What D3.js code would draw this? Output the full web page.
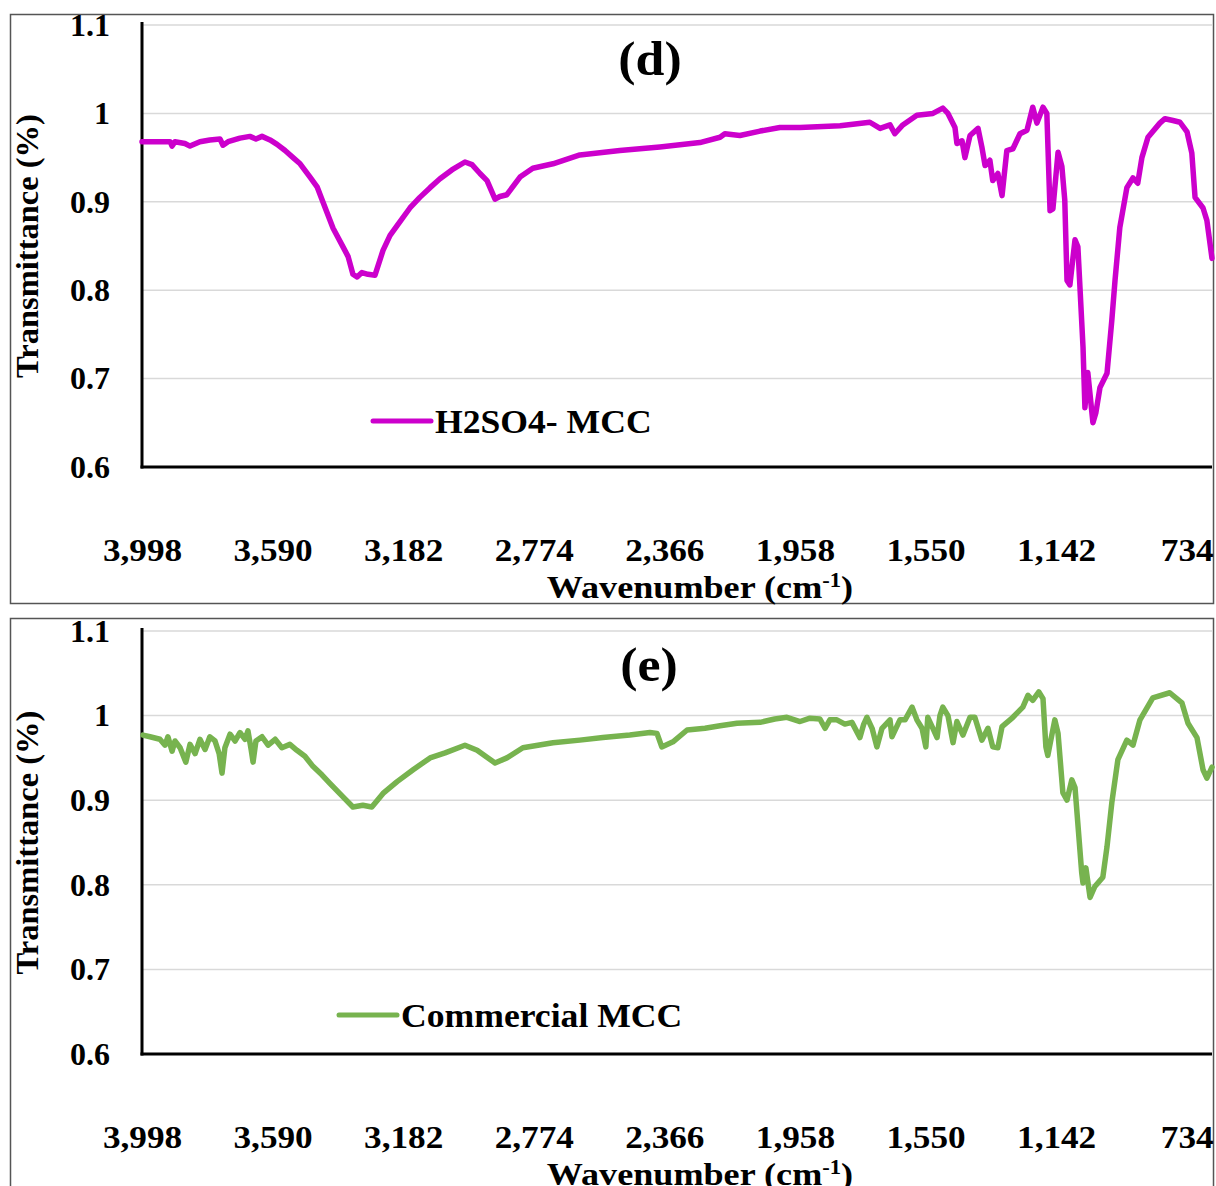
<!DOCTYPE html>
<html>
<head>
<meta charset="utf-8">
<script src="https://cdn.jsdelivr.net/npm/d3@7"></script>
<style>
  body { margin: 0; background: #fff; }
  text { font-family: "Liberation Serif", "Times New Roman", serif; font-weight: bold; fill: #000; }
</style>
</head>
<body>
<script>
// tick labels
var xTicks = [3998, 3590, 3182, 2774, 2366, 1958, 1550, 1142, 734];
var yTicks = [0.6, 0.7, 0.8, 0.9, 1.0, 1.1];

// (d) H2SO4- MCC : wavenumber (cm-1) and transmittance
var waveH2SO4 = [3998, 3957, 3910, 3904, 3895, 3864, 3848, 3817, 3786, 3754, 3745, 3729, 3692, 3661, 3642, 3623,
  3598, 3576, 3551, 3526, 3504, 3473, 3451, 3433, 3401, 3370, 3354, 3339, 3326, 3311, 3292, 3270, 3245, 3223,
  3201, 3161, 3130, 3098, 3067, 3030, 2989, 2967, 2942, 2920, 2895, 2880, 2858, 2817, 2777, 2714, 2630, 2505,
  2380, 2255, 2192, 2177, 2130, 2067, 2005, 1942, 1817, 1724, 1692, 1661, 1646, 1621, 1577, 1527, 1496, 1480,
  1458, 1452, 1436, 1427, 1411, 1386, 1374, 1364, 1349, 1340, 1324, 1311, 1296, 1277, 1255, 1233, 1215, 1202,
  1183, 1171, 1161, 1152, 1136, 1124, 1115, 1108, 1099, 1083, 1074, 1058, 1052, 1043, 1027, 1018, 1005, 983,
  968, 958, 943, 921, 902, 887, 874, 855, 818, 802, 777, 755, 733, 718, 708, 683, 671, 655];
var transH2SO4 = [0.968, 0.968, 0.968, 0.963, 0.968, 0.966, 0.963, 0.968, 0.970, 0.971, 0.964, 0.968, 0.972, 0.974, 0.971, 0.974,
  0.970, 0.965, 0.958, 0.950, 0.943, 0.928, 0.917, 0.900, 0.870, 0.849, 0.838, 0.818, 0.815, 0.820, 0.818, 0.817, 0.845, 0.862,
  0.873, 0.893, 0.905, 0.916, 0.926, 0.936, 0.945, 0.942, 0.932, 0.924, 0.903, 0.906, 0.908, 0.928, 0.938, 0.943, 0.953, 0.958,
  0.962, 0.967, 0.973, 0.977, 0.975, 0.980, 0.984, 0.984, 0.986, 0.990, 0.983, 0.987, 0.977, 0.987, 0.998, 1.000, 1.006, 1.000,
  0.984, 0.966, 0.969, 0.950, 0.975, 0.983, 0.962, 0.941, 0.947, 0.924, 0.932, 0.907, 0.958, 0.960, 0.977, 0.981, 1.007, 0.989,
  1.007, 1.000, 0.890, 0.892, 0.956, 0.940, 0.902, 0.811, 0.806, 0.857, 0.849, 0.736, 0.667, 0.707, 0.650, 0.661, 0.690, 0.706,
  0.766, 0.811, 0.871, 0.916, 0.927, 0.921, 0.950, 0.973, 0.989, 0.994, 0.992, 0.990, 0.979, 0.955, 0.905, 0.893, 0.879, 0.836];

// (e) Commercial MCC
var waveCommercial = [3995, 3973, 3942, 3926, 3917, 3904, 3895, 3879, 3861, 3848, 3832, 3817, 3801, 3786, 3770, 3757,
  3748, 3739, 3723, 3707, 3692, 3676, 3667, 3657, 3651, 3642, 3623, 3604, 3582, 3561, 3536, 3514, 3489, 3464,
  3436, 3411, 3370, 3339, 3308, 3280, 3245, 3201, 3151, 3098, 3051, 2989, 2951, 2917, 2895, 2858, 2808, 2714,
  2630, 2558, 2474, 2411, 2389, 2374, 2339, 2295, 2239, 2192, 2139, 2067, 2021, 1983, 1942, 1911, 1880, 1864,
  1849, 1827, 1802, 1780, 1755, 1743, 1733, 1717, 1702, 1686, 1661, 1655, 1630, 1614, 1592, 1577, 1561, 1549,
  1543, 1527, 1514, 1505, 1496, 1480, 1464, 1452, 1433, 1411, 1396, 1374, 1355, 1340, 1324, 1311, 1277, 1246,
  1230, 1215, 1196, 1183, 1174, 1168, 1146, 1136, 1121, 1108, 1093, 1083, 1062, 1058, 1049, 1036, 1021, 996,
  983, 968, 949, 921, 902, 880, 840, 787, 749, 730, 702, 683, 671, 655];
var transCommercial = [0.977, 0.975, 0.972, 0.965, 0.975, 0.958, 0.970, 0.962, 0.945, 0.966, 0.955, 0.972, 0.960, 0.975, 0.970, 0.955,
  0.932, 0.962, 0.978, 0.970, 0.980, 0.972, 0.982, 0.960, 0.945, 0.970, 0.975, 0.965, 0.972, 0.962, 0.966, 0.959, 0.952, 0.940,
  0.930, 0.920, 0.904, 0.892, 0.894, 0.892, 0.908, 0.922, 0.936, 0.950, 0.956, 0.965, 0.959, 0.950, 0.944, 0.950, 0.962, 0.968,
  0.971, 0.974, 0.977, 0.980, 0.979, 0.963, 0.969, 0.983, 0.985, 0.988, 0.991, 0.992, 0.996, 0.998, 0.993, 0.997, 0.996, 0.985,
  0.995, 0.995, 0.990, 0.992, 0.974, 0.990, 0.998, 0.985, 0.963, 0.985, 0.995, 0.975, 0.995, 0.995, 1.010, 0.995, 0.985, 0.963,
  0.998, 0.985, 0.974, 1.000, 1.010, 1.000, 0.968, 0.993, 0.977, 0.998, 0.998, 0.971, 0.985, 0.963, 0.962, 0.987, 0.998, 1.010,
  1.024, 1.018, 1.028, 1.020, 0.963, 0.953, 0.995, 0.979, 0.909, 0.900, 0.924, 0.915, 0.814, 0.802, 0.820, 0.785, 0.798, 0.809,
  0.845, 0.897, 0.948, 0.971, 0.965, 0.995, 1.021, 1.027, 1.015, 0.991, 0.974, 0.936, 0.926, 0.939];

var width = 1216, height = 1186;

var svg = d3.select("body").append("svg")
    .attr("width", width)
    .attr("height", height);

// same wavenumber scale for both panels
var x = d3.scaleLinear().domain([3998, 655]).range([142, 1212]);

function drawPanel(p) {
  var g = svg.append("g");

  // panel frame
  g.append("rect")
      .attr("x", 10.5).attr("y", p.top + 0.5)
      .attr("width", 1203).attr("height", p.bottom - p.top)
      .style("fill", "none").style("stroke", "#555").style("stroke-width", "1.5");

  var y = d3.scaleLinear().domain([0.6, 1.1]).range([p.y0, p.y1]);

  // gridlines
  g.selectAll(".grid")
      .data(yTicks.slice(1))
    .enter().append("line")
      .attr("x1", x.range()[0]).attr("x2", x.range()[1])
      .attr("y1", function(d) { return y(d); })
      .attr("y2", function(d) { return y(d); })
      .style("stroke", "#d9d9d9").style("stroke-width", "1.5");

  // y axis labels
  var yAxis = g.append("g")
      .attr("transform", "translate(142,0)")
      .call(d3.axisLeft(y).tickValues(yTicks).tickSize(0).tickPadding(32)
        .tickFormat(function(d) { return d3.format("")(+d.toFixed(1)); }));
  yAxis.select(".domain").remove();
  yAxis.selectAll("text")
      .style("font-size", "32px").style("font-family", "'Liberation Serif', serif").style("font-weight", "bold");

  // x axis labels (placed low, as in the original)
  var xAxis = g.append("g")
      .attr("transform", "translate(0," + p.y0 + ")")
      .call(d3.axisBottom(x).tickValues(xTicks).tickSize(0).tickPadding(71).tickFormat(d3.format(",")));
  xAxis.select(".domain").remove();
  xAxis.selectAll("text")
      .style("font-size", "32px").style("font-family", "'Liberation Serif', serif").style("font-weight", "bold")
      .attr("transform", "scale(1.1,1)");

  // axis lines
  g.append("line")
      .attr("x1", 142).attr("x2", 142).attr("y1", p.y1 - 3).attr("y2", p.y0 + 1.5)
      .style("stroke", "#000").style("stroke-width", "3");
  g.append("line")
      .attr("x1", 140.5).attr("x2", 1212).attr("y1", p.y0).attr("y2", p.y0)
      .style("stroke", "#000").style("stroke-width", "3");

  // spectrum
  var line = d3.line()
      .x(function(d) { return x(d[0]); })
      .y(function(d) { return y(d[1]); });

  g.append("path")
      .datum(d3.zip(p.wave, p.trans))
      .attr("d", line)
      .style("fill", "none")
      .style("stroke", p.color)
      .style("stroke-width", "5.5")
      .style("stroke-linejoin", "round")
      .style("stroke-linecap", "round");

  // panel letter
  g.append("text")
      .attr("transform", "translate(" + p.letterX + "," + p.letterY + ") scale(1.08,1)")
      .attr("text-anchor", "middle")
      .style("font-size", "48px")
      .text(p.letter);

  // legend
  g.append("line")
      .attr("x1", p.legX).attr("x2", p.legX + 58)
      .attr("y1", p.legY).attr("y2", p.legY)
      .style("stroke", p.color).style("stroke-width", "5").style("stroke-linecap", "round");
  g.append("text")
      .attr("transform", "translate(" + (p.legX + 62) + "," + (p.legY + 12) + ") scale(1.08,1)")
      .style("font-size", "33px")
      .text(p.name);

  // axis titles
  g.append("text")
      .attr("transform", "translate(38," + ((p.y0 + p.y1) / 2) + ") rotate(-90)")
      .attr("text-anchor", "middle")
      .style("font-size", "32.5px")
      .text("Transmittance (%)");

  var xt = g.append("text")
      .attr("transform", "translate(700," + (p.y0 + 131) + ") scale(1.13,1)")
      .attr("text-anchor", "middle")
      .style("font-size", "32px");
  xt.append("tspan").text("Wavenumber (cm");
  xt.append("tspan").attr("dy", -11).style("font-size", "20px").text("-1");
  xt.append("tspan").attr("dy", 11).text(")");
}

drawPanel({
  top: 14, bottom: 603, y0: 467, y1: 25,
  wave: waveH2SO4, trans: transH2SO4, color: "#cc00cc",
  letter: "(d)", letterX: 650, letterY: 75,
  name: "H2SO4- MCC", legX: 373, legY: 421
});

drawPanel({
  top: 618, bottom: 1200, y0: 1054, y1: 631,
  wave: waveCommercial, trans: transCommercial, color: "#77b34f",
  letter: "(e)", letterX: 649, letterY: 681,
  name: "Commercial MCC", legX: 339, legY: 1015
});
</script>
</body>
</html>
